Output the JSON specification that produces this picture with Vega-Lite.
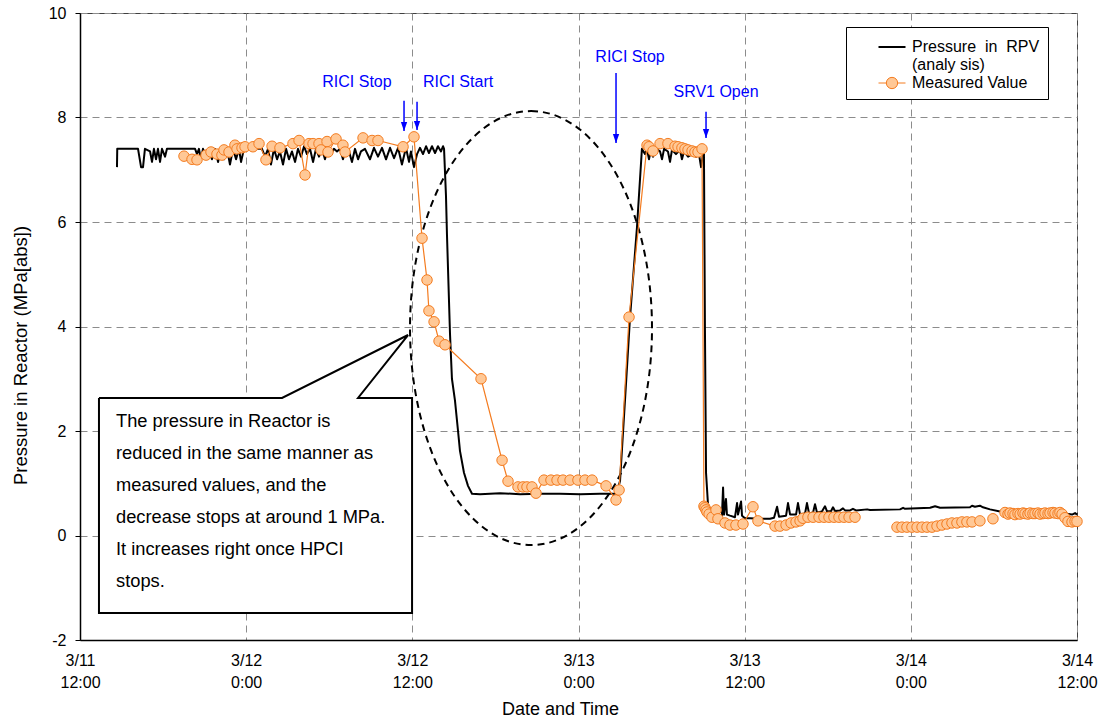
{
  "$schema": "https://vega.github.io/schema/vega-lite/v6.json",
  "width": 997,
  "height": 627,
  "autosize": {"type": "none"},
  "padding": {"left": 80, "top": 13, "right": 28, "bottom": 82},
  "background": "white",
  "config": {
    "font": "Liberation Sans",
    "view": {"stroke": "#404040", "strokeWidth": 1},
    "axis": {
      "gridColor": "#8c8c8c", "gridDash": [7, 5], "gridWidth": 1,
      "domainColor": "black", "domainWidth": 1.5,
      "labelColor": "black", "labelFontSize": 16, "labelFont": "Liberation Sans",
      "titleColor": "black", "titleFontSize": 18, "titleFontWeight": "normal", "titleFont": "Liberation Sans",
      "labelFlush": false, "labelOverlap": false, "labelBound": false
    }
  },
  "datasets": {
    "analysis": [
      {"h":14.67,"p":7.05},{"h":14.69,"p":7.40},{"h":16.19,"p":7.40},{"h":16.41,"p":7.05},{"h":16.55,"p":7.05},{"h":16.69,"p":7.40},
      {"h":17.06,"p":7.35},{"h":17.20,"p":7.15},{"h":17.34,"p":7.40},{"h":17.49,"p":7.20},{"h":17.63,"p":7.40},{"h":17.78,"p":7.15},
      {"h":17.92,"p":7.40},{"h":18.14,"p":7.25},{"h":18.28,"p":7.40},{"h":18.50,"p":7.40},{"h":20.31,"p":7.40},{"h":20.45,"p":7.30},
      {"h":20.59,"p":7.40},{"h":20.74,"p":7.20},{"h":20.88,"p":7.40},{"h":21.10,"p":7.25},{"h":21.32,"p":7.40},{"h":21.53,"p":7.20},
      {"h":21.75,"p":7.40},{"h":21.97,"p":7.15},{"h":22.18,"p":7.40},{"h":22.40,"p":7.20},{"h":22.62,"p":7.40},{"h":22.83,"p":7.10},
      {"h":23.05,"p":7.40},{"h":23.27,"p":7.20},{"h":23.48,"p":7.40},{"h":23.63,"p":7.15},{"h":23.84,"p":7.40},{"h":25.14,"p":7.40},
      {"h":25.36,"p":7.25},{"h":25.58,"p":7.40},{"h":25.79,"p":7.10},{"h":26.01,"p":7.40},{"h":26.23,"p":7.20},{"h":26.44,"p":7.35},
      {"h":26.66,"p":7.10},{"h":26.88,"p":7.40},{"h":27.09,"p":7.20},{"h":27.31,"p":7.35},{"h":27.53,"p":7.15},{"h":27.74,"p":7.40},
      {"h":27.96,"p":7.25},{"h":28.18,"p":7.45},{"h":28.39,"p":7.30},{"h":28.61,"p":7.40},{"h":28.83,"p":7.15},{"h":29.04,"p":7.40},
      {"h":29.26,"p":7.25},{"h":29.48,"p":7.40},{"h":29.69,"p":7.20},{"h":29.91,"p":7.40},{"h":30.13,"p":7.30},{"h":30.34,"p":7.40},
      {"h":30.56,"p":7.35},{"h":30.78,"p":7.40},{"h":30.99,"p":7.20},{"h":31.21,"p":7.40},{"h":31.43,"p":7.35},{"h":31.64,"p":7.15},
      {"h":31.86,"p":7.40},{"h":32.08,"p":7.20},{"h":32.29,"p":7.35},{"h":32.58,"p":7.40},{"h":32.94,"p":7.20},{"h":33.23,"p":7.42},
      {"h":33.52,"p":7.25},{"h":33.81,"p":7.42},{"h":34.10,"p":7.20},{"h":34.39,"p":7.42},{"h":34.68,"p":7.22},{"h":34.97,"p":7.42},
      {"h":35.25,"p":7.10},{"h":35.54,"p":7.42},{"h":35.76,"p":7.15},{"h":35.90,"p":7.35},{"h":36.12,"p":7.05},{"h":36.34,"p":7.30},
      {"h":36.55,"p":7.42},{"h":36.77,"p":7.30},{"h":36.99,"p":7.45},{"h":37.20,"p":7.32},{"h":37.42,"p":7.45},{"h":37.64,"p":7.32},
      {"h":37.85,"p":7.45},{"h":38.07,"p":7.35},{"h":38.22,"p":7.45},{"h":38.29,"p":7.40},{"h":38.43,"p":6.5},{"h":38.50,"p":5.77},
      {"h":38.72,"p":3.86},{"h":38.86,"p":3.0},{"h":39.08,"p":2.58},{"h":39.30,"p":2.0},{"h":39.44,"p":1.62},{"h":39.73,"p":1.2},
      {"h":40.02,"p":0.95},{"h":40.31,"p":0.80},{"h":40.89,"p":0.79},{"h":42.33,"p":0.81},{"h":43.78,"p":0.79},{"h":45.22,"p":0.80},
      {"h":46.66,"p":0.80},{"h":48.11,"p":0.79},{"h":49.55,"p":0.80},{"h":50.64,"p":0.80},{"h":50.78,"p":0.82},{"h":51.00,"p":1.05},
      {"h":51.36,"p":2.6},{"h":51.72,"p":4.17},{"h":52.22,"p":5.89},{"h":52.58,"p":7.40},{"h":52.80,"p":7.30},{"h":52.94,"p":7.40},
      {"h":53.09,"p":7.20},{"h":53.23,"p":7.38},{"h":53.38,"p":7.25},{"h":53.60,"p":7.40},{"h":53.89,"p":7.35},{"h":54.03,"p":7.20},
      {"h":54.18,"p":7.40},{"h":54.46,"p":7.35},{"h":54.61,"p":7.15},{"h":54.75,"p":7.38},{"h":55.04,"p":7.30},{"h":55.33,"p":7.38},
      {"h":55.47,"p":7.20},{"h":55.62,"p":7.35},{"h":55.91,"p":7.25},{"h":56.20,"p":7.30},{"h":56.49,"p":7.25},{"h":56.70,"p":7.30},
      {"h":56.85,"p":7.05},{"h":56.99,"p":7.30},{"h":57.06,"p":7.30},{"h":57.13,"p":4.0},{"h":57.21,"p":1.2},{"h":57.35,"p":0.6},
      {"h":57.57,"p":0.45},{"h":57.86,"p":0.40},{"h":58.22,"p":0.38},{"h":58.36,"p":0.38},{"h":58.44,"p":0.92},{"h":58.51,"p":0.40},
      {"h":58.65,"p":0.70},{"h":58.72,"p":0.40},{"h":58.94,"p":0.38},{"h":59.30,"p":0.35},{"h":59.45,"p":0.62},{"h":59.52,"p":0.40},
      {"h":59.74,"p":0.65},{"h":59.81,"p":0.38},{"h":60.02,"p":0.33},{"h":60.39,"p":0.33},{"h":61.11,"p":0.32},{"h":61.83,"p":0.32},
      {"h":62.12,"p":0.34},{"h":62.34,"p":0.55},{"h":62.48,"p":0.36},{"h":62.99,"p":0.38},{"h":63.13,"p":0.62},{"h":63.28,"p":0.40},
      {"h":63.71,"p":0.40},{"h":63.85,"p":0.62},{"h":64.00,"p":0.40},{"h":64.36,"p":0.42},{"h":64.50,"p":0.62},{"h":64.65,"p":0.42},
      {"h":64.94,"p":0.44},{"h":65.08,"p":0.60},{"h":65.22,"p":0.44},{"h":65.58,"p":0.46},{"h":65.80,"p":0.56},{"h":65.95,"p":0.46},
      {"h":66.24,"p":0.47},{"h":66.38,"p":0.54},{"h":66.52,"p":0.47},{"h":66.89,"p":0.48},{"h":67.10,"p":0.52},{"h":67.25,"p":0.48},
      {"h":67.61,"p":0.48},{"h":67.82,"p":0.51},{"h":68.04,"p":0.48},{"h":68.84,"p":0.50},{"h":69.05,"p":0.49},{"h":71.22,"p":0.50},
      {"h":71.44,"p":0.53},{"h":71.58,"p":0.51},{"h":73.39,"p":0.53},{"h":73.75,"p":0.56},{"h":74.11,"p":0.53},{"h":76.27,"p":0.54},
      {"h":76.42,"p":0.57},{"h":76.63,"p":0.55},{"h":76.99,"p":0.57},{"h":77.21,"p":0.54},{"h":77.72,"p":0.50},{"h":78.44,"p":0.46},
      {"h":82.77,"p":0.45},{"h":83.13,"p":0.42},{"h":83.64,"p":0.40},{"h":83.86,"p":0.43},{"h":84.00,"p":0.40}
    ],
    "measured": [
      {"h":19.51,"p":7.26,"s":1},{"h":20.09,"p":7.20,"s":1},{"h":20.45,"p":7.19,"s":1},{"h":21.10,"p":7.28,"s":1},{"h":21.46,"p":7.34,"s":1},
      {"h":21.89,"p":7.30,"s":1},{"h":22.25,"p":7.28,"s":1},{"h":22.40,"p":7.38,"s":1},{"h":22.76,"p":7.34,"s":1},{"h":23.19,"p":7.47,"s":1},
      {"h":23.34,"p":7.40,"s":1},{"h":23.70,"p":7.42,"s":1},{"h":23.92,"p":7.44,"s":1},{"h":24.49,"p":7.44,"s":1},{"h":24.93,"p":7.50,"s":1},
      {"h":25.43,"p":7.19,"s":1},{"h":25.87,"p":7.45,"s":1},{"h":26.44,"p":7.42,"s":1},{"h":27.38,"p":7.50,"s":1},{"h":27.82,"p":7.56,"s":1},
      {"h":28.25,"p":6.90,"s":1},{"h":28.54,"p":7.50,"s":1},{"h":28.83,"p":7.50,"s":1},{"h":29.26,"p":7.50,"s":1},{"h":29.40,"p":7.38,"s":1},
      {"h":29.84,"p":7.54,"s":1},{"h":29.91,"p":7.34,"s":1},{"h":30.49,"p":7.59,"s":1},{"h":30.99,"p":7.47,"s":1},{"h":31.14,"p":7.34,"s":1},
      {"h":32.44,"p":7.61,"s":1},{"h":33.09,"p":7.56,"s":1},{"h":33.52,"p":7.56,"s":1},{"h":35.33,"p":7.44,"s":1},{"h":36.12,"p":7.63,"s":1},
      {"h":36.70,"p":5.69,"s":1},{"h":37.06,"p":4.89,"s":1},{"h":37.20,"p":4.30,"s":1},{"h":37.57,"p":4.09,"s":1},{"h":37.93,"p":3.72,"s":1},
      {"h":38.36,"p":3.65,"s":1},{"h":40.96,"p":3.00,"s":1},{"h":42.48,"p":1.44,"s":1},{"h":42.91,"p":1.04,"s":1},{"h":43.63,"p":0.93,"s":1},
      {"h":43.99,"p":0.93,"s":1},{"h":44.28,"p":0.93,"s":1},{"h":44.64,"p":0.93,"s":1},{"h":44.93,"p":0.81,"s":1},{"h":45.51,"p":1.06,"s":1},
      {"h":46.01,"p":1.06,"s":1},{"h":46.45,"p":1.06,"s":1},{"h":46.88,"p":1.06,"s":1},{"h":47.39,"p":1.06,"s":1},{"h":47.96,"p":1.06,"s":1},
      {"h":48.47,"p":1.06,"s":1},{"h":48.98,"p":1.06,"s":1},{"h":49.99,"p":0.95,"s":1},{"h":50.71,"p":0.68,"s":1},{"h":50.93,"p":0.87,"s":1},
      {"h":51.65,"p":4.18,"s":1},{"h":52.95,"p":7.47,"s":1},{"h":53.09,"p":7.44,"s":1},{"h":53.38,"p":7.36,"s":1},{"h":53.89,"p":7.50,"s":1},
      {"h":54.46,"p":7.50,"s":1},{"h":54.97,"p":7.45,"s":1},{"h":55.19,"p":7.44,"s":1},{"h":55.47,"p":7.42,"s":1},{"h":55.69,"p":7.40,"s":1},
      {"h":55.91,"p":7.38,"s":1},{"h":56.20,"p":7.36,"s":1},{"h":56.41,"p":7.34,"s":1},{"h":56.63,"p":7.34,"s":1},{"h":56.92,"p":7.40,"s":1},
      {"h":57.06,"p":0.56,"s":1},{"h":57.13,"p":0.53,"s":1},{"h":57.21,"p":0.49,"s":1},{"h":57.28,"p":0.45,"s":1},{"h":57.43,"p":0.41,"s":1},
      {"h":57.64,"p":0.35,"s":1},{"h":57.93,"p":0.49,"s":1},{"h":58.07,"p":0.32,"s":1},{"h":58.58,"p":0.24,"s":1},{"h":58.94,"p":0.20,"s":1},
      {"h":59.37,"p":0.20,"s":1},{"h":59.88,"p":0.22,"s":1},{"h":60.60,"p":0.55,"s":1},{"h":60.96,"p":0.28,"s":1},{"h":62.19,"p":0.18,"s":1},
      {"h":62.55,"p":0.18,"s":1},{"h":62.99,"p":0.20,"s":1},{"h":63.35,"p":0.24,"s":1},{"h":63.71,"p":0.26,"s":1},{"h":64.00,"p":0.28,"s":1},
      {"h":64.21,"p":0.33,"s":1},{"h":64.57,"p":0.35,"s":1},{"h":64.94,"p":0.35,"s":1},{"h":65.37,"p":0.35,"s":1},{"h":65.73,"p":0.35,"s":1},
      {"h":66.09,"p":0.35,"s":1},{"h":66.45,"p":0.35,"s":1},{"h":66.81,"p":0.35,"s":1},{"h":67.17,"p":0.35,"s":1},{"h":67.54,"p":0.35,"s":1},
      {"h":67.97,"p":0.35,"s":1},
      {"h":71.00,"p":0.16,"s":2},{"h":71.36,"p":0.16,"s":2},{"h":71.72,"p":0.16,"s":2},{"h":72.08,"p":0.16,"s":2},{"h":72.45,"p":0.16,"s":2},
      {"h":72.81,"p":0.16,"s":2},{"h":73.17,"p":0.16,"s":2},{"h":73.53,"p":0.16,"s":2},{"h":73.89,"p":0.18,"s":2},{"h":74.25,"p":0.20,"s":2},
      {"h":74.61,"p":0.22,"s":2},{"h":74.97,"p":0.24,"s":2},{"h":75.33,"p":0.24,"s":2},{"h":75.69,"p":0.26,"s":2},{"h":76.05,"p":0.26,"s":2},
      {"h":76.42,"p":0.26,"s":2},{"h":76.99,"p":0.28,"s":2},{"h":77.93,"p":0.32,"s":3},
      {"h":78.80,"p":0.44,"s":4},{"h":79.02,"p":0.41,"s":4},{"h":79.16,"p":0.43,"s":4},{"h":79.38,"p":0.42,"s":4},{"h":79.52,"p":0.40,"s":4},
      {"h":79.74,"p":0.42,"s":4},{"h":79.89,"p":0.41,"s":4},{"h":80.10,"p":0.43,"s":4},{"h":80.25,"p":0.42,"s":4},{"h":80.46,"p":0.41,"s":4},
      {"h":80.61,"p":0.43,"s":4},{"h":80.82,"p":0.42,"s":4},{"h":80.97,"p":0.42,"s":4},{"h":81.18,"p":0.43,"s":4},{"h":81.33,"p":0.41,"s":4},
      {"h":81.55,"p":0.42,"s":4},{"h":81.69,"p":0.43,"s":4},{"h":81.91,"p":0.42,"s":4},{"h":82.05,"p":0.43,"s":4},{"h":82.27,"p":0.44,"s":4},
      {"h":82.41,"p":0.43,"s":4},{"h":82.63,"p":0.42,"s":4},{"h":82.77,"p":0.44,"s":4},{"h":82.92,"p":0.41,"s":4},{"h":83.13,"p":0.34,"s":4},
      {"h":83.35,"p":0.27,"s":4},{"h":83.64,"p":0.26,"s":4},{"h":83.86,"p":0.27,"s":4},{"h":84.00,"p":0.27,"s":4}
    ],
    "events": [
      {"label":"RICI Stop","lh":32.00,"lp":8.68,"ah":35.40,"top":8.32,"tip":7.74},
      {"label":"RICI Start","lh":39.30,"lp":8.68,"ah":36.34,"top":8.30,"tip":7.76},
      {"label":"RICI Stop","lh":51.72,"lp":9.16,"ah":50.71,"top":8.85,"tip":7.51},
      {"label":"SRV1 Open","lh":57.93,"lp":8.49,"ah":57.21,"top":8.11,"tip":7.61}
    ],
    "callout": [
      {"k":0,"h":13.37,"p":2.632},{"k":1,"h":26.59,"p":2.632},{"k":2,"h":35.69,"p":3.837},{"k":3,"h":32.08,"p":2.632},
      {"k":4,"h":35.98,"p":2.632},{"k":5,"h":35.98,"p":-1.483},{"k":6,"h":13.37,"p":-1.483},{"k":7,"h":13.37,"p":2.632}
    ],
    "box": [{"h":13.37,"h2":35.98,"p":2.632,"p2":-1.483}],
    "note": [{"h":14.60,"p":2.086,"t":"The pressure in Reactor is\nreduced in the same manner as\nmeasured values, and the\ndecrease stops at around 1 MPa.\nIt increases right once HPCI\nstops."}],
    "ellipse": [{"h":44.57,"p":3.97}]
  },
  "layer": [
    {
      "data": {"name": "box"},
      "mark": {"type": "rect", "fill": "white", "strokeWidth": 0},
      "encoding": {
        "x": {"field": "h", "type": "quantitative", "scale": {"domain": [12, 84], "nice": false, "zero": false},
          "axis": {"title": "Date and Time", "values": [12, 24, 36, 48, 60, 72, 84], "grid": true, "ticks": false,
            "labelExpr": "['3/' + (11 + floor(datum.value / 24)), datum.value % 24 == 0 ? '0:00' : '12:00']",
            "labelLineHeight": 22, "labelPadding": 12, "titleX": 480, "titleY": 69, "titleBaseline": "middle", "titleAnchor": null}},
        "x2": {"field": "h2"},
        "y": {"field": "p", "type": "quantitative", "scale": {"domain": [-2, 10], "nice": false, "zero": false},
          "axis": {"title": "Pressure in Reactor (MPa[abs])", "values": [-2, 0, 2, 4, 6, 8, 10], "grid": true,
            "labelExpr": "'' + datum.value", "tickSize": 5, "tickColor": "black", "labelPadding": 9,
            "titleFontSize": 18.5, "titleX": -60, "titleY": 342, "titleBaseline": "middle", "titleAlign": "center"}},
        "y2": {"field": "p2"}
      }
    },
    {
      "data": {"name": "ellipse"},
      "mark": {"type": "point", "filled": false, "stroke": "black", "strokeWidth": 2, "strokeDash": [7, 5], "opacity": 1,
        "shape": "M 0 -1 A 0.5576 1 0 1 1 0 1 A 0.5576 1 0 1 1 0 -1 Z", "size": 188356},
      "encoding": {
        "x": {"field": "h", "type": "quantitative"},
        "y": {"field": "p", "type": "quantitative"}
      }
    },
    {
      "data": {"name": "analysis"},
      "mark": {"type": "line", "strokeWidth": 2, "strokeJoin": "round"},
      "encoding": {
        "x": {"field": "h", "type": "quantitative"},
        "y": {"field": "p", "type": "quantitative"},
        "color": {"datum": "Pressure in RPV (analy sis)",
          "scale": {"domain": ["Pressure in RPV (analy sis)", "Measured Value"], "range": ["black", "#F47C20"]},
          "legend": {
            "orient": "none", "legendX": 766, "legendY": 14, "title": "\u00a0", "titleFontSize": 2, "titlePadding": 2,
            "fillColor": "white", "strokeColor": "black", "padding": 8, "cornerRadius": 0,
            "labelFontSize": 16, "labelFont": "Liberation Sans", "labelColor": "black", "labelLimit": 400,
            "symbolSize": 729, "symbolOffset": 30, "labelOffset": 12, "rowPadding": 2,
            "labelExpr": "datum.label == 'Measured Value' ? datum.label : ['Pressure\u00a0\u00a0in\u00a0\u00a0RPV', '(analy sis)']",
            "encode": {
              "symbols": {"update": {
                "shape": {"signal": "datum.value == 'Measured Value' ? 'M -1 0 L -0.42 0 M 0.42 0 L 1 0 M -0.42 0 A 0.42 0.42 0 1 1 0.42 0 A 0.42 0.42 0 1 1 -0.42 0 Z' : 'M -1 0 L 1 0'"},
                "fill": {"signal": "datum.value == 'Measured Value' ? '#FFC896' : 'transparent'"},
                "stroke": {"signal": "datum.value == 'Measured Value' ? '#F47C20' : 'black'"},
                "strokeWidth": {"signal": "datum.value == 'Measured Value' ? 1 : 2"},
                "opacity": {"value": 1}
              }}
            }
          }
        }
      }
    },
    {
      "data": {"name": "measured"},
      "mark": {"type": "line", "strokeWidth": 1.2},
      "encoding": {
        "x": {"field": "h", "type": "quantitative"},
        "y": {"field": "p", "type": "quantitative"},
        "color": {"datum": "Measured Value"},
        "detail": {"field": "s", "type": "nominal"}
      }
    },
    {
      "data": {"name": "measured"},
      "mark": {"type": "point", "filled": true, "fill": "#FFC896", "stroke": "#F47C20", "strokeWidth": 1, "size": 110, "opacity": 1},
      "encoding": {
        "x": {"field": "h", "type": "quantitative"},
        "y": {"field": "p", "type": "quantitative"}
      }
    },
    {
      "data": {"name": "callout"},
      "mark": {"type": "line", "stroke": "black", "strokeWidth": 2, "strokeJoin": "miter"},
      "encoding": {
        "x": {"field": "h", "type": "quantitative"},
        "y": {"field": "p", "type": "quantitative"},
        "order": {"field": "k", "type": "quantitative"}
      }
    },
    {
      "data": {"name": "note"},
      "mark": {"type": "text", "align": "left", "baseline": "alphabetic", "fontSize": 18.3, "lineHeight": 32, "lineBreak": "\n", "color": "black", "font": "Liberation Sans"},
      "encoding": {
        "x": {"field": "h", "type": "quantitative"},
        "y": {"field": "p", "type": "quantitative"},
        "text": {"field": "t"}
      }
    },
    {
      "data": {"name": "events"},
      "mark": {"type": "rule", "color": "#0000FF", "strokeWidth": 1.5},
      "encoding": {
        "x": {"field": "ah", "type": "quantitative"},
        "y": {"field": "top", "type": "quantitative"},
        "y2": {"field": "tip"}
      }
    },
    {
      "data": {"name": "events"},
      "mark": {"type": "point", "filled": true, "fill": "#0000FF", "strokeWidth": 0, "opacity": 1, "size": 81,
        "shape": "M -0.7 -1 L 0.7 -1 L 0 1 Z", "yOffset": -4.5},
      "encoding": {
        "x": {"field": "ah", "type": "quantitative"},
        "y": {"field": "tip", "type": "quantitative"}
      }
    },
    {
      "data": {"name": "events"},
      "mark": {"type": "text", "align": "center", "baseline": "middle", "fontSize": 16, "color": "#0000FF", "font": "Liberation Sans"},
      "encoding": {
        "x": {"field": "lh", "type": "quantitative"},
        "y": {"field": "lp", "type": "quantitative"},
        "text": {"field": "label"}
      }
    }
  ]
}
